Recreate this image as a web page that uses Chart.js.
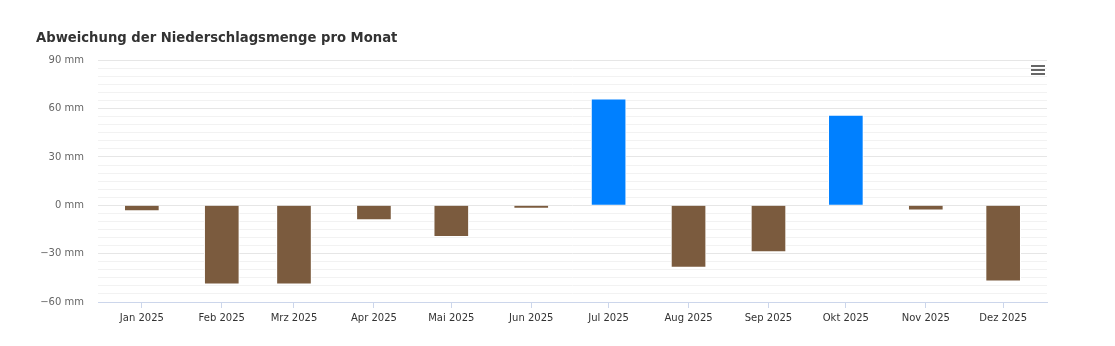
<!DOCTYPE html>
<html>
<head>
<meta charset="utf-8">
<script src="https://cdn.jsdelivr.net/npm/chart.js@4.4.1/dist/chart.umd.min.js"></script>
<style>
  html, body { margin: 0; padding: 0; background: #fff; }
  #wrap { width: 1115px; height: 346px; }
</style>
</head>
<body>
<div id="wrap"><canvas id="chart"></canvas></div>
<script>
// Monatswerte 2025 (Abweichung in mm)
const months = ['Jan 2025', 'Feb 2025', 'Mrz 2025', 'Apr 2025', 'Mai 2025', 'Jun 2025',
                'Jul 2025', 'Aug 2025', 'Sep 2025', 'Okt 2025', 'Nov 2025', 'Dez 2025'];
const deviation = [-3.5, -49, -49, -9, -19.5, -2, 66, -38.5, -29, 56, -3, -47];
const yTicks = [-60, -30, 0, 30, 60, 90];

// Tage seit 1. Januar fuer den Monatsanfang (Zeitachse)
const dayOf = i => (Date.UTC(2025, i, 1) - Date.UTC(2025, 0, 1)) / 86400000;
const monthDays = months.map((m, i) => dayOf(i));

const wetColor = '#0080ff';
const dryColor = '#7b5b3e';

const ctx = document.getElementById('chart').getContext('2d');

const menuButton = {
    id: 'menuButton',
    afterDraw(chart) {
        const c = chart.ctx;
        c.save();
        c.strokeStyle = '#666';
        c.lineWidth = 2;
        [66, 70, 74].forEach(y => {
            c.beginPath();
            c.moveTo(1031, y);
            c.lineTo(1045, y);
            c.stroke();
        });
        c.restore();
    }
};

new Chart(ctx, {
    type: 'bar',
    data: {
        datasets: [{
            data: deviation.map((v, i) => ({ x: monthDays[i], y: v })),
            backgroundColor: deviation.map(v => v >= 0 ? wetColor : dryColor),
            borderColor: '#ffffff',
            borderWidth: 1,
            barThickness: 35
        }]
    },
    options: {
        responsive: true,
        maintainAspectRatio: false,
        animation: false,
        layout: { padding: { left: 36, right: 68, top: 0, bottom: 0 } },
        plugins: {
            legend: { display: false },
            tooltip: { enabled: false },
            title: {
                display: true,
                text: 'Abweichung der Niederschlagsmenge pro Monat',
                align: 'start',
                color: '#333333',
                font: { family: 'DejaVu Sans', size: 13.2, weight: 'bold' },
                padding: { top: 31, bottom: 13.4 }
            }
        },
        scales: {
            x: {
                type: 'linear',
                min: -17,
                max: 351,
                offset: false,
                afterBuildTicks: s => { s.ticks = monthDays.map(v => ({ value: v })); },
                afterFit: s => { s.height = 44; },
                ticks: {
                    autoSkip: false,
                    maxRotation: 0,
                    color: '#333333',
                    font: { family: 'DejaVu Sans', size: 10 },
                    padding: 4,
                    callback: (v) => months[monthDays.indexOf(v)]
                },
                grid: { offset: false, drawOnChartArea: false, drawTicks: true, tickLength: 6, color: '#ccd6eb' },
                border: { color: '#ccd6eb', width: 1 }
            },
            y: {
                min: -60,
                max: 90,
                afterFit: s => { s.width = 62; },
                ticks: {
                    stepSize: 5,
                    color: '#666666',
                    font: { family: 'DejaVu Sans', size: 10 },
                    padding: 14,
                    autoSkip: false,
                    callback: v => yTicks.includes(v) ? (v < 0 ? '\u2212' + (-v) : v) + ' mm' : ''
                },
                grid: {
                    drawTicks: false,
                    color: c => yTicks.includes(c.tick.value) ? '#e6e6e6' : '#f2f2f2'
                },
                border: { display: false }
            }
        }
    },
    plugins: [menuButton]
});
</script>
</body>
</html>
